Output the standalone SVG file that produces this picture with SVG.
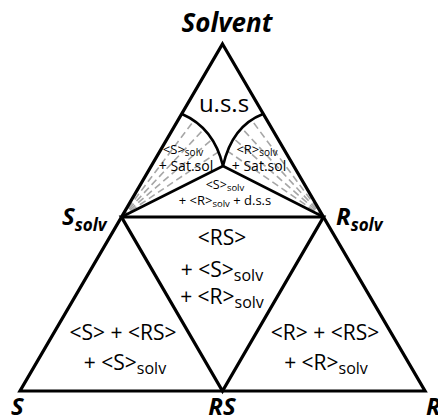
<svg xmlns="http://www.w3.org/2000/svg" width="438" height="418" viewBox="0 0 438 418">
<style>
.edge{fill:none;stroke:#000;stroke-width:3.2;stroke-linejoin:miter}
.inner{fill:none;stroke:#000;stroke-width:2.6}
.tie{fill:none;stroke:#a6a6a6;stroke-width:1.6;stroke-dasharray:7 4}
.t{font-family:"Open Sans","Liberation Sans",sans-serif;fill:#000;text-anchor:middle}
.lab{font-family:"Open Sans","Liberation Sans",sans-serif;font-weight:bold;font-style:italic;fill:#000}
</style>
<rect width="438" height="418" fill="#fff"/>
<g id="connectors">
  <g id="ties">
    <line class="tie" x1="121.5" y1="217" x2="193.9" y2="120.6"/>
    <line class="tie" x1="121.5" y1="217" x2="203.9" y2="129"/>
    <line class="tie" x1="121.5" y1="217" x2="212.1" y2="139.4"/>
    <line class="tie" x1="121.5" y1="217" x2="218.5" y2="151.8"/>
    <line class="tie" x1="323.5" y1="217" x2="251.5" y2="119.9"/>
    <line class="tie" x1="323.5" y1="217" x2="241.7" y2="128.1"/>
    <line class="tie" x1="323.5" y1="217" x2="233.7" y2="138.5"/>
    <line class="tie" x1="323.5" y1="217" x2="227.5" y2="151.1"/>
  </g>
  <path class="edge" d="M222.5,44 L425,391 L20,391 Z"/>
  <path class="edge" d="M121.5,217 L323.5,217 L222.5,391 Z"/>
  <path class="inner" d="M182,114 Q214,128 223,166"/>
  <path class="inner" d="M263,114 Q232,126 223,166"/>
  <path class="inner" d="M121.5,217 L223,166 L323.5,217"/>
</g>
<g id="node-solvent"><text class="lab" x="227" y="32" font-size="26" text-anchor="middle">Solvent</text></g>
<g id="node-uss"><text class="t" x="224" y="112" font-size="24">u.s.s</text></g>
<g id="node-s-sat">
  <text class="t" x="183" y="154" font-size="13">&lt;S&gt;<tspan font-size="10" dy="2">solv</tspan></text>
  <text class="t" x="186" y="171" font-size="14">+ Sat.sol</text>
</g>
<g id="node-r-sat">
  <text class="t" x="257" y="154" font-size="13">&lt;R&gt;<tspan font-size="10" dy="2">solv</tspan></text>
  <text class="t" x="259" y="171" font-size="14">+ Sat.sol</text>
</g>
<g id="node-dss">
  <text class="t" x="225" y="189" font-size="12.5">&lt;S&gt;<tspan font-size="9.5" dy="2">solv</tspan></text>
  <text class="t" x="225" y="205" font-size="13">+ &lt;R&gt;<tspan font-size="9.5" dy="2">solv</tspan><tspan dy="-2"> + d.s.s</tspan></text>
</g>
<g id="node-ssolv"><text class="lab" x="62" y="225" font-size="24">S<tspan font-size="17" dy="6">solv</tspan></text></g>
<g id="node-rsolv"><text class="lab" x="336" y="225" font-size="24">R<tspan font-size="17" dy="6">solv</tspan></text></g>
<g id="node-center">
  <text class="t" x="222" y="245" font-size="21">&lt;RS&gt;</text>
  <text class="t" x="222" y="277" font-size="21">+ &lt;S&gt;<tspan font-size="16" dy="4">solv</tspan></text>
  <text class="t" x="222" y="304" font-size="21">+ &lt;R&gt;<tspan font-size="16" dy="4">solv</tspan></text>
</g>
<g id="node-left">
  <text class="t" x="123" y="340" font-size="21">&lt;S&gt; + &lt;RS&gt;</text>
  <text class="t" x="125" y="370" font-size="21">+ &lt;S&gt;<tspan font-size="16" dy="4">solv</tspan></text>
</g>
<g id="node-right">
  <text class="t" x="325" y="340" font-size="21">&lt;R&gt; + &lt;RS&gt;</text>
  <text class="t" x="326" y="370" font-size="21">+ &lt;R&gt;<tspan font-size="16" dy="4">solv</tspan></text>
</g>
<g id="node-S"><text class="lab" x="11" y="415" font-size="24">S</text></g>
<g id="node-RS"><text class="lab" x="222" y="415" font-size="24" text-anchor="middle">RS</text></g>
<g id="node-R"><text class="lab" x="426" y="415" font-size="24">R</text></g>
</svg>
